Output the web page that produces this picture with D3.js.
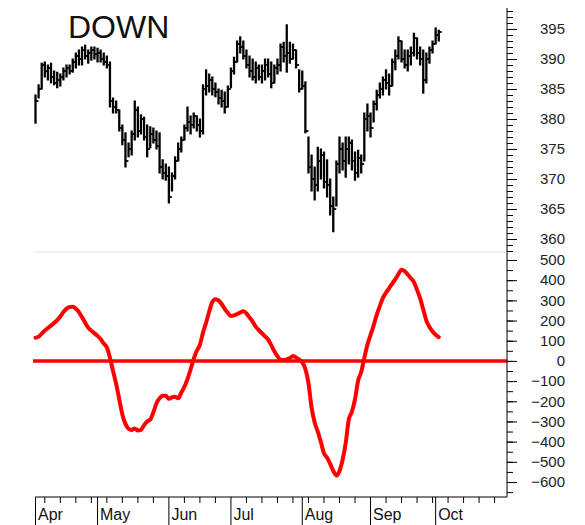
<!DOCTYPE html>
<html><head><meta charset="utf-8">
<script src="https://cdn.jsdelivr.net/npm/d3@7"></script>
<style>body{margin:0;background:#fff} svg{display:block}</style>
</head><body>
<script>
const highs = [384,385.7,389.3,389.5,389,389.3,388,387.8,387.5,388.5,389,389,390,391,391.5,392,392.3,391.5,392,392,391.8,391.5,391,390.5,389.5,383.5,383,381.5,379,377.7,376,378,383,382,380.7,380.3,379,378.7,378.5,378,377.7,373.2,372.5,372,371,373.7,376,377,379,382,380.5,381,380.5,380,385.7,388.2,387.5,387,386,385,384.8,384.5,385.5,388.5,390.3,393,393.7,393,391.5,390.5,390,389.5,389,389,390,390,389.5,389,390,392.5,392.8,395.7,392.8,392.5,391.5,388.2,388,386.2,377,374,372,375.3,375,374.5,373.2,370,367,373,377,376,377,377,376.5,374.5,374.8,374,381,382.5,381,383,384.8,386,387,388.2,387.5,390,391.5,393.7,393,391.5,391.5,392,394.3,393.5,392,391.5,391,392,393,395.2,394.8];
const lows = [379.3,383.5,385,387,386.5,386,385.7,385.2,385.5,386.5,387,387.5,387.8,388.5,389,389,390,389.3,389.8,390,389.5,389.5,389,388.5,382,381,381,378,375.7,372,373.7,374,376.5,377,377.5,376.5,373.7,375.2,376,375,371,370,369.8,366,368,370,373,374.5,376.5,378,377.5,378.5,378,377,377.5,384,384.5,384,383.7,382.5,382,381,382,385.2,387.5,389.5,391,390,388.5,387,386.5,386,386.5,386,386.5,387,385.2,386,387.5,388,389.5,387.8,389.3,390,388.5,384.5,385,377.7,371,368,366.5,368,370,368.5,367,364,361.2,365.5,371,371.5,370.3,372.5,371.5,369.8,370.3,371,373,378,377,379.5,381.5,383.5,384,385,384,385.5,388.2,390,389.5,388.5,388,389,390.5,390,389,384.3,386,389.3,391,392.5,393];
const closes = [383,385,389,388,388.5,387,386,386.5,387,388,388.5,388,389.5,390.5,390,391.5,390.5,391,391.5,390.8,391,390,389.5,389,383,382,381.5,378.5,376.5,373,375,377.5,381.5,378,380,377,375,377.5,376.5,375.5,372,371,370.5,367,370.5,373,375,376.5,378.5,379.5,379,380.5,379,378,385,385.5,386.5,385,384.5,383.5,383,382,385,388,389.5,392.5,392,390.5,389,388,387,388.5,387,388,389,387.5,386,388.5,389,392,390.5,391,390,391.5,389,385,385.5,378,372,370,369,373,374,369.5,369,365.5,365,372.5,375,373,375,376,373,371,373.5,372.5,380,380.5,378.5,382.5,384,385,386.5,386,385.5,389.5,390.5,393,390,389,390.5,391,393.5,391,390,386.5,390,391.5,392.5,394,394.5];
const osc = [115,120,135,150,163,175,188,202,220,242,259,267,268,258,242,216,190,165,150,137,124,108,86,67,15,-50,-113,-190,-265,-312,-336,-342,-335,-345,-342,-318,-300,-290,-255,-210,-185,-173,-173,-188,-180,-178,-185,-157,-128,-90,-42,10,50,80,140,190,245,292,306,300,282,258,238,223,226,232,240,246,235,215,195,170,152,137,122,106,78,48,23,6,5,8,14,24,17,6,-6,-40,-110,-230,-305,-350,-402,-458,-480,-510,-545,-568,-545,-490,-408,-290,-252,-190,-98,-55,15,80,128,175,228,272,312,338,360,383,405,430,452,445,428,410,390,352,310,255,200,168,146,130,118];
const monthLabels = ["Apr","May","Jun","Jul","Aug","Sep","Oct"];
const priceTicks = [360,365,370,375,380,385,390,395];
const oscTicks = [-600,-500,-400,-300,-200,-100,0,100,200,300,400,500];
const firstDay = "2024-04-03", lastDay = "2024-10-31";
const title = "DOWN";

const W = 585, H = 525;
const font = "Arial, 'Liberation Sans', sans-serif";
const svg = d3.select("body").append("svg").attr("width", W).attr("height", H)
  .style("font-family", font);

const parse = d3.utcParse("%Y-%m-%d");
const days = d3.utcDay.range(parse(firstDay), d3.utcDay.offset(parse(lastDay), 1))
  .filter(d => d.getUTCDay() % 6 !== 0);

const axisX = 507, axisTop = 8, axisBottom = 497, sepY = 252;
const x = d3.scaleLinear().domain([0, days.length]).range([35.5, axisX]);
const yP = d3.scaleLinear().domain([360, 395]).range([239, 29]);
const yO = d3.scaleLinear().domain([-600, 500]).range([482, 260]);

// separator
svg.append("line").attr("x1", x(0)).attr("x2", axisX).attr("y1", sepY).attr("y2", sepY)
  .attr("stroke", "#e2e2e2").attr("stroke-width", 1);

// title
svg.append("text").attr("x", 68).attr("y", 38).attr("font-size", 32).attr("fill", "#111").text(title);

// price bars
const bars = svg.append("g").attr("stroke", "#000").attr("stroke-width", 2.3);
highs.forEach((h, i) => {
  bars.append("line").attr("x1", x(i)).attr("x2", x(i)).attr("y1", yP(h) - 0.5).attr("y2", yP(lows[i]) + 0.5);
  bars.append("line").attr("x1", x(i)).attr("x2", x(i) + 3).attr("y1", yP(closes[i])).attr("y2", yP(closes[i])).attr("stroke-width", 1.8);
});

// zero line
svg.append("line").attr("x1", 33).attr("x2", axisX).attr("y1", yO(0)).attr("y2", yO(0))
  .attr("stroke", "#ff0000").attr("stroke-width", 3.5);

// oscillator
svg.append("path").datum(osc)
  .attr("d", d3.line().x((d, i) => x(i)).y(d => yO(d)).curve(d3.curveMonotoneX))
  .attr("fill", "none").attr("stroke", "#ff0000").attr("stroke-width", 4)
  .attr("stroke-linejoin", "round").attr("stroke-linecap", "round");

// right axes
function rightAxis(scale, major, minor) {
  const gMin = svg.append("g").attr("transform", `translate(${axisX},0)`)
    .call(d3.axisRight(scale).tickValues(minor).tickSize(6).tickFormat(""));
  gMin.select(".domain").remove();
  gMin.selectAll("line").attr("stroke", "#000");
  const g = svg.append("g").attr("transform", `translate(${axisX},0)`)
    .call(d3.axisRight(scale).tickValues(major).tickSize(10).tickFormat(d3.format("d")));
  g.select(".domain").remove();
  g.selectAll("line").attr("stroke", "#000");
  g.selectAll("text").attr("x", 58).attr("text-anchor", "end")
    .attr("font-size", 15).attr("font-family", font).attr("fill", "#222");
}
rightAxis(yP, priceTicks, d3.range(358, 399));
rightAxis(yO, oscTicks, d3.range(-650, 551, 50).filter(v => yO(v) > sepY && yO(v) < axisBottom));

svg.append("line").attr("x1", axisX).attr("x2", axisX).attr("y1", axisTop).attr("y2", axisBottom)
  .attr("stroke", "#000").attr("stroke-width", 1);

// bottom axis
svg.append("line").attr("x1", x(0)).attr("x2", axisX).attr("y1", axisBottom).attr("y2", axisBottom)
  .attr("stroke", "#000").attr("stroke-width", 1);
const monthStarts = [];
days.forEach((d, i) => {
  if (i === 0 || d.getUTCMonth() !== days[i - 1].getUTCMonth()) monthStarts.push(i);
});
const xa = svg.append("g");
days.forEach((d, i) => {
  if (d.getUTCDay() === 1 && !monthStarts.includes(i)) {
    xa.append("line").attr("x1", x(i)).attr("x2", x(i)).attr("y1", axisBottom).attr("y2", axisBottom + 6)
      .attr("stroke", "#000");
  }
});
monthStarts.forEach((idx, k) => {
  xa.append("line").attr("x1", x(idx)).attr("x2", x(idx)).attr("y1", axisBottom).attr("y2", H)
    .attr("stroke", "#000");
  xa.append("text").attr("x", x(idx) + 2.5).attr("y", 520).attr("font-size", 16).attr("fill", "#111")
    .text(monthLabels[k]);
});
</script>
</body></html>
